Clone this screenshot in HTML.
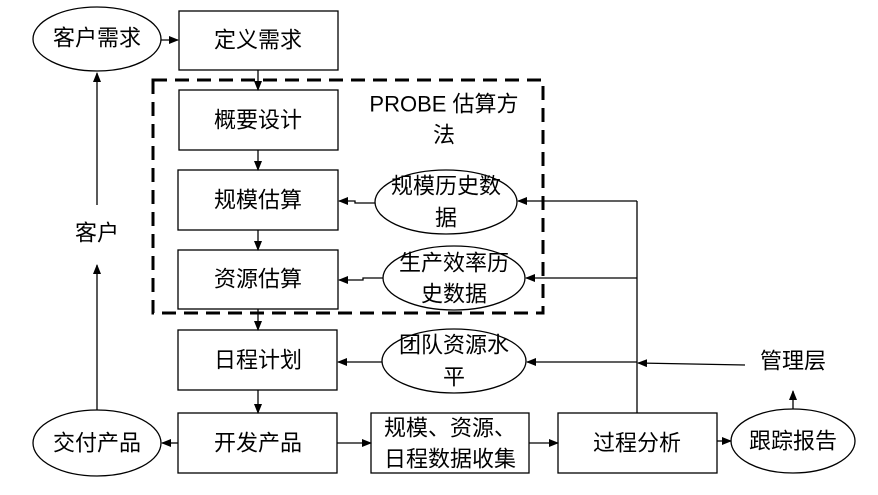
<!DOCTYPE html>
<html><head><meta charset="utf-8"><style>
body{margin:0;background:#fff;}
svg text{font-family:"Liberation Sans","Noto Sans CJK SC",sans-serif;font-size:22px;fill:#000;text-anchor:middle;dominant-baseline:central;}
</style></head><body>
<svg width="878" height="490" viewBox="0 0 878 490" xmlns="http://www.w3.org/2000/svg">
<defs><marker id="a" markerWidth="10" markerHeight="8" refX="9" refY="4" orient="auto" markerUnits="userSpaceOnUse"><path d="M0,0 L10,4 L0,8 Z" fill="#000"/></marker></defs>
<g fill="none" stroke="#000" stroke-width="1.3">
<rect x="153" y="80" width="390" height="233" stroke-width="3" stroke-dasharray="14,8"/>
<rect x="179" y="11" width="159" height="59"/>
<rect x="179" y="90" width="159" height="60"/>
<rect x="178" y="170" width="160" height="60"/>
<rect x="178" y="250" width="160" height="59"/>
<rect x="178" y="330" width="159" height="60"/>
<rect x="178" y="413" width="159" height="60"/>
<rect x="371" y="413" width="158" height="60"/>
<rect x="558" y="413" width="159" height="60"/>
<ellipse cx="97" cy="39" rx="64" ry="32"/>
<ellipse cx="97" cy="443" rx="64" ry="33"/>
<ellipse cx="446" cy="202" rx="71" ry="32"/>
<ellipse cx="454" cy="278" rx="71" ry="32"/>
<ellipse cx="454" cy="361" rx="72" ry="32"/>
<ellipse cx="793" cy="441" rx="62" ry="32"/>
<line x1="161" y1="40" x2="178" y2="40" marker-end="url(#a)"/>
<line x1="258" y1="70" x2="258" y2="90" marker-end="url(#a)"/>
<line x1="258" y1="150" x2="258" y2="170" marker-end="url(#a)"/>
<line x1="258" y1="230" x2="258" y2="250" marker-end="url(#a)"/>
<line x1="258" y1="309" x2="258" y2="330" marker-end="url(#a)"/>
<line x1="258" y1="390" x2="258" y2="413" marker-end="url(#a)"/>
<line x1="97" y1="205" x2="97" y2="73" marker-end="url(#a)"/>
<line x1="97" y1="410" x2="97" y2="265" marker-end="url(#a)"/>
<line x1="178" y1="443" x2="162" y2="443" marker-end="url(#a)"/>
<line x1="337" y1="443" x2="371" y2="443" marker-end="url(#a)"/>
<line x1="529" y1="443" x2="558" y2="443" marker-end="url(#a)"/>
<line x1="717" y1="441" x2="731" y2="441" marker-end="url(#a)"/>
<line x1="793" y1="409" x2="793" y2="391" marker-end="url(#a)"/>
<polyline points="375,203 355,203 355,201 339,201" marker-end="url(#a)"/>
<polyline points="383,278 363,278 363,280 339,280" marker-end="url(#a)"/>
<line x1="382" y1="362" x2="338" y2="362" marker-end="url(#a)"/>
<line x1="637" y1="413" x2="637" y2="201"/>
<line x1="637" y1="201" x2="518" y2="201" marker-end="url(#a)"/>
<line x1="637" y1="278" x2="526" y2="278" marker-end="url(#a)"/>
<line x1="637" y1="362" x2="527" y2="362" marker-end="url(#a)"/>
<line x1="745" y1="365" x2="638" y2="363" marker-end="url(#a)"/>
</g>
<text x="97" y="38">客户需求</text>
<text x="258" y="40">定义需求</text>
<text x="258" y="120">概要设计</text>
<text x="258" y="200">规模估算</text>
<text x="258" y="279">资源估算</text>
<text x="258" y="360">日程计划</text>
<text x="258" y="443">开发产品</text>
<text x="97" y="443">交付产品</text>
<text x="97" y="233">客户</text>
<text x="444" y="104">PROBE 估算方</text>
<text x="444" y="135">法</text>
<text x="446" y="186">规模历史数</text>
<text x="446" y="218">据</text>
<text x="454" y="263">生产效率历</text>
<text x="454" y="294">史数据</text>
<text x="454" y="345">团队资源水</text>
<text x="454" y="377">平</text>
<text x="450" y="428">规模、资源、</text>
<text x="450" y="459">日程数据收集</text>
<text x="637" y="443">过程分析</text>
<text x="793" y="441">跟踪报告</text>
<text x="793" y="361">管理层</text>
</svg>
</body></html>
